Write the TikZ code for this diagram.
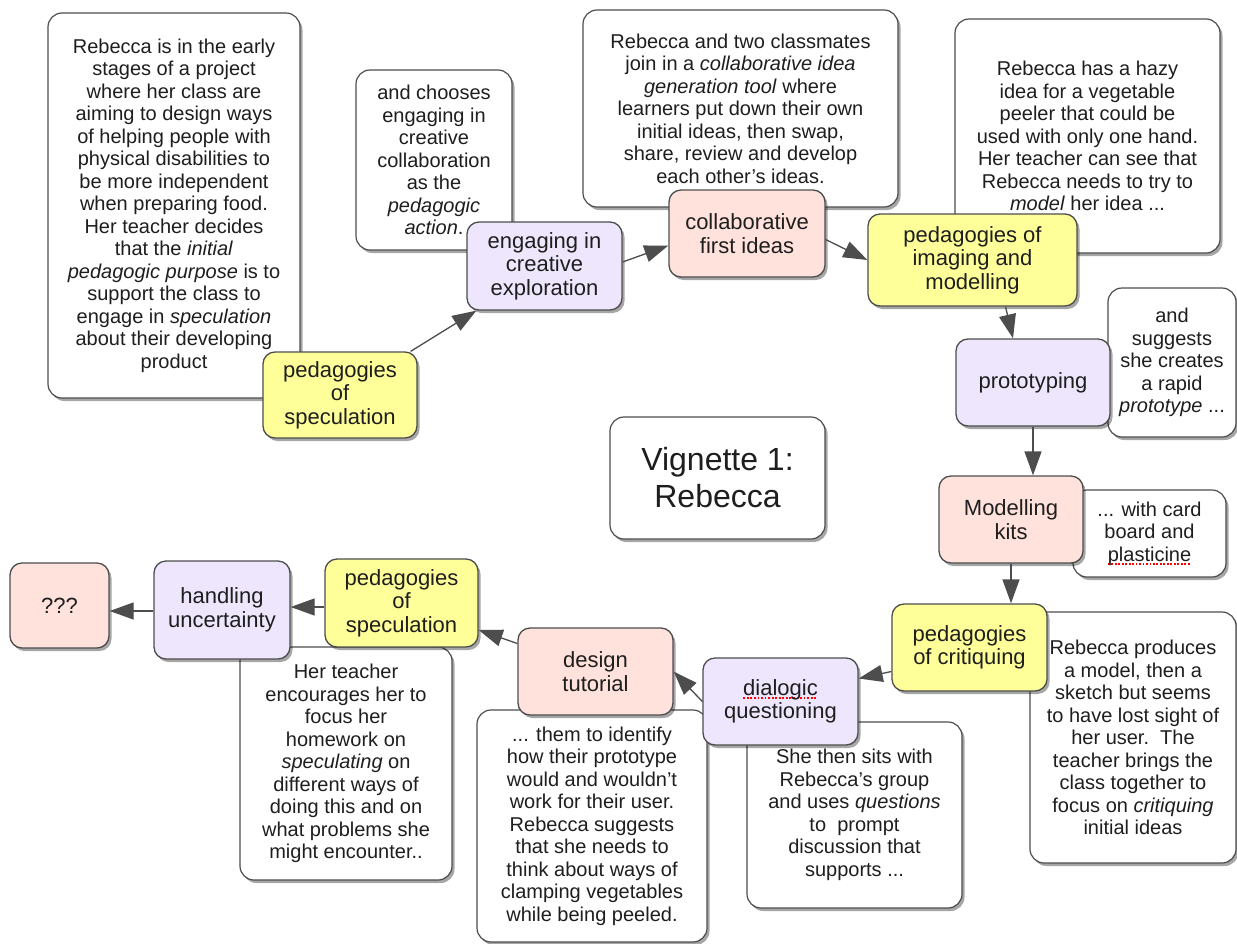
\documentclass[tikz,border=0pt]{standalone}
\usepackage{fontspec}
\setmainfont{Liberation Sans}
\usetikzlibrary{shadows,arrows.meta,calc}
\definecolor{linec}{HTML}{4D4D4D}
\definecolor{txtc}{HTML}{1E1E1E}
\definecolor{ylwc}{HTML}{FFFF99}
\definecolor{prpc}{HTML}{EEE6FC}
\definecolor{pnkc}{HTML}{FFE2DC}
\newcommand\notefnt{\fontsize{20}{22.5}\selectfont}
\newcommand\keyfnt{\fontsize{22}{23.5}\selectfont}
\newcommand\vigfnt{\fontsize{32}{37}\selectfont}
\newsavebox\spellbx
\newcommand\spellmark[1]{\sbox\spellbx{#1}\leavevmode\rlap{\lower3.6pt\hbox to\wd\spellbx{\color{red}\xleaders\hbox{\rule{1.8pt}{1.8pt}\kern1.6pt}\hfil}}\usebox\spellbx}
\tikzset{
  shad/.style={drop shadow={shadow xshift=2.5pt,shadow yshift=-3pt,fill=black,opacity=.35}},
  note/.style={draw=linec, fill=white, rounded corners=14pt, line width=1.2pt,
    align=center, inner sep=0pt, text=txtc, font=\notefnt, shad},
  keybox/.style={draw=linec, rounded corners=12pt, line width=1.3pt,
    align=center, inner sep=0pt, text=txtc, font=\keyfnt, shad},
  ylw/.style={keybox, fill=ylwc},
  prp/.style={keybox, fill=prpc},
  pnk/.style={keybox, fill=pnkc},
  conn/.style={draw=linec, line width=1.3pt, -{Triangle[length=24pt,width=17pt]}, fill=linec},
}
\begin{document}
\begin{tikzpicture}[x=1pt,y=-1pt]
\useasboundingbox[fill=white] (0,0) rectangle (1237,943);
% ---- notes
\node[note, minimum width=252pt, minimum height=385pt] (nA) at (174,205.5)
 {Rebecca is in the early\\stages of a project\\where her class are\\aiming to design ways\\of helping people with\\physical disabilities to\\be more independent\\when preparing food.\\Her teacher decides\\that the \textit{initial}\\\textit{pedagogic purpose} is to\\support the class to\\engage in \textit{speculation}\\about their developing\\product};
\node[note, minimum width=156pt, minimum height=180pt] (nB) at (434,160)
 {and chooses\\engaging in\\creative\\collaboration\\as the\\\textit{pedagogic}\\\textit{action}.};
\node[note, minimum width=315pt, minimum height=197pt] (nC) at (740.5,108.5)
 {Rebecca and two classmates\\join in a \textit{collaborative idea}\\\textit{generation tool} where\\learners put down their own\\initial ideas, then swap,\\share, review and develop\\each other’s ideas.};
\node[note, minimum width=265pt, minimum height=234pt] (nD) at (1087.5,136)
 {Rebecca has a hazy\\idea for a vegetable\\peeler that could be\\used with only one hand.\\Her teacher can see that\\Rebecca needs to try to\\\textit{model} her idea ...};
\node[note, minimum width=128pt, minimum height=149pt] (nE) at (1172,362.5)
 {and\\suggests\\she creates\\a rapid\\\textit{prototype} ...};
\node[note, minimum width=153pt, minimum height=87pt] (nF) at (1149.5,533.5)
 {... with card\\board and\\\spellmark{plasticine}};
\node[note, minimum width=206pt, minimum height=251pt] (nG) at (1133,737.5)
 {Rebecca produces\\a model, then a\\sketch but seems\\to have lost sight of\\her user.\ \ The\\teacher brings the\\class together to\\focus on \textit{critiquing}\\initial ideas};
\node[note, minimum width=215pt, minimum height=186pt] (nH) at (854.5,815)
 {She then sits with\\Rebecca\char39 s group\\and uses \textit{questions}\\to\ \ prompt\\discussion that\\supports ...};
\node[note, minimum width=230pt, minimum height=232pt] (nI) at (592,826)
 {... them to identify\\how their prototype\\would and wouldn’t\\work for their user.\\Rebecca suggests\\that she needs to\\think about ways of\\clamping vegetables\\while being peeled.};
\node[note, minimum width=212pt, minimum height=233pt] (nJ) at (346,763.5)
 {Her teacher\\encourages her to\\focus her\\homework on\\\textit{speculating} on\\different ways of\\doing this and on\\what problems she\\might encounter..};
\node[note, font=\vigfnt, minimum width=215pt, minimum height=122pt] (vig) at (717.5,478)
 {Vignette 1:\\Rebecca};
% ---- key nodes
\node[ylw, minimum width=154pt, minimum height=86pt] (spec1) at (340,395) {pedagogies\\of\\speculation};
\node[prp, minimum width=155pt, minimum height=88pt] (explore) at (544.5,266) {engaging in\\creative\\exploration};
\node[pnk, minimum width=156pt, minimum height=87pt] (collab) at (747,233.5) {collaborative\\first ideas};
\node[ylw, minimum width=209pt, minimum height=92pt] (imaging) at (972.5,260) {pedagogies of\\imaging and\\modelling};
\node[prp, minimum width=154pt, minimum height=87pt] (proto) at (1033,382.5) {prototyping};
\node[pnk, minimum width=144pt, minimum height=87pt] (kits) at (1011,519.5) {Modelling\\kits};
\node[ylw, minimum width=155pt, minimum height=87pt] (crit) at (969.5,647.5) {pedagogies\\of critiquing};
\node[prp, minimum width=155pt, minimum height=87pt] (dialog) at (780.5,701.5) {\spellmark{dialogic}\\questioning};
\node[pnk, minimum width=155pt, minimum height=87pt] (tutor) at (595.5,671.5) {design\\tutorial};
\node[ylw, minimum width=153pt, minimum height=88pt] (spec2) at (401.5,603) {pedagogies\\of\\speculation};
\node[prp, minimum width=136pt, minimum height=98pt] (uncert) at (222,610) {handling\\uncertainty};
\node[pnk, minimum width=99pt, minimum height=85pt] (qqq) at (59.5,605.5) {???};
% ---- connectors
\draw[conn] ($(spec1.north east)+(-7,0)$) -- ($(explore.south west)+(10,0)$);
\draw[conn] ($(explore.east)+(0,-4)$) -- ($(collab.west)+(0,12)$);
\draw[conn] ($(collab.east)+(0,6)$) -- (imaging.west);
\draw[conn] ($(imaging.south)+(33,0)$) -- ($(proto.north)+(-20,0)$);
\draw[conn] (proto.south) -- (proto.south |- kits.north);
\draw[conn] (kits.south) -- (kits.south |- crit.north);
\draw[conn] ($(crit.west)+(0,24)$) -- ($(dialog.east)+(0,-23)$);
\draw[conn] (dialog.west) -- (tutor.east);
\draw[conn] ($(tutor.west)+(0,-28)$) -- ($(spec2.east)+(0,27)$);
\draw[conn] ($(spec2.west)+(0,4)$) -- ($(uncert.east)+(0,-3)$);
\draw[conn] ($(uncert.west)+(0,1)$) -- ($(qqq.east)+(0,5.5)$);
\end{tikzpicture}
\end{document}
